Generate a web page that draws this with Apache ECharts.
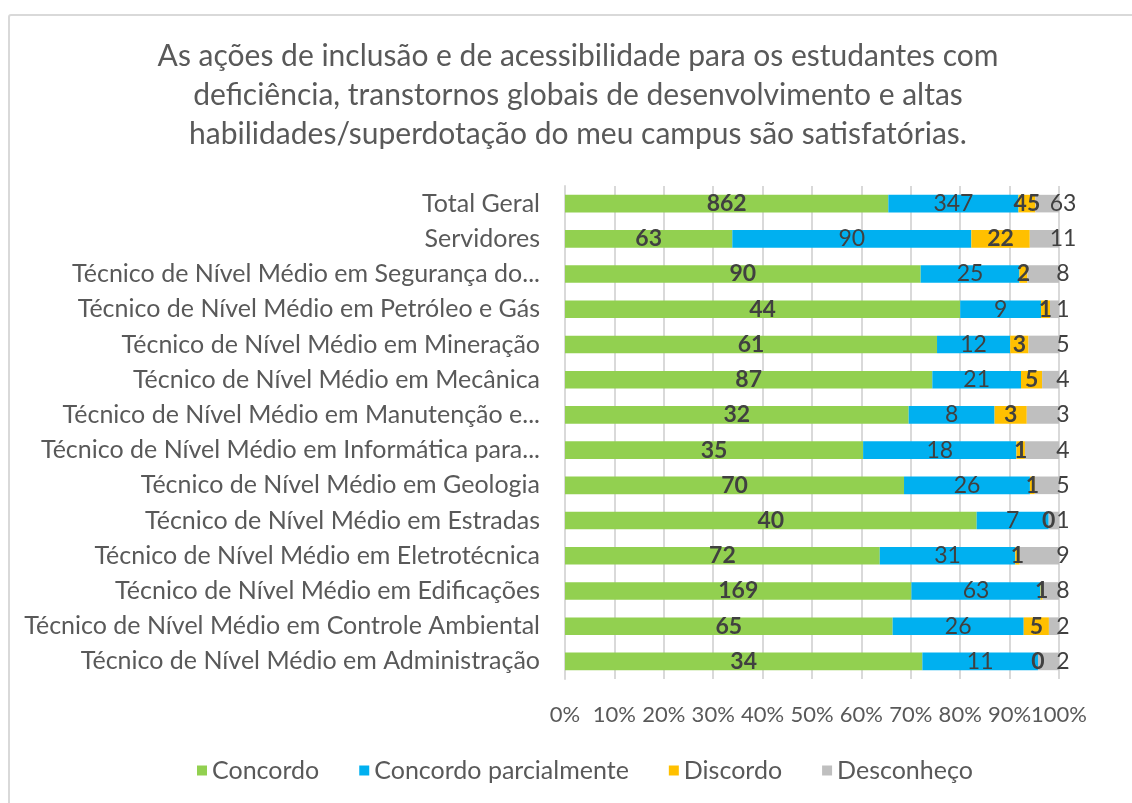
<!DOCTYPE html>
<html>
<head>
<meta charset="utf-8">
<script src="https://cdn.jsdelivr.net/npm/echarts@6/dist/echarts.min.js"></script>
<style>
  html, body { margin: 0; padding: 0; background: #fff; overflow: hidden; }
  #frame { position: absolute; left: 8px; top: 14px; width: 1200px; height: 900px; border: 2px solid #d9d9d9; border-radius: 3px; box-sizing: border-box; }
  #chart { position: absolute; left: 0; top: 0; width: 1132px; height: 803px; }
</style>
</head>
<body>
<div id="frame"></div>
<div id="chart"></div>
<script>
const titleText = 'As ações de inclusão e de acessibilidade para os estudantes com\ndeficiência, transtornos globais de desenvolvimento e altas\nhabilidades/superdotação do meu campus são satisfatórias.';

const categories = [
  'Total Geral',
  'Servidores',
  'Técnico de Nível Médio em Segurança do...',
  'Técnico de Nível Médio em Petróleo e Gás',
  'Técnico de Nível Médio em Mineração',
  'Técnico de Nível Médio em Mecânica',
  'Técnico de Nível Médio em Manutenção e...',
  'Técnico de Nível Médio em Informática para...',
  'Técnico de Nível Médio em Geologia',
  'Técnico de Nível Médio em Estradas',
  'Técnico de Nível Médio em Eletrotécnica',
  'Técnico de Nível Médio em Edificações',
  'Técnico de Nível Médio em Controle Ambiental',
  'Técnico de Nível Médio em Administração'
];

const seriesNames = ['Concordo', 'Concordo parcialmente', 'Discordo', 'Desconheço'];

const concordo     = [862, 63, 90, 44, 61, 87, 32, 35, 70, 40, 72, 169, 65, 34];
const parcialmente = [347, 90, 25,  9, 12, 21,  8, 18, 26,  7, 31,  63, 26, 11];
const discordo     = [ 45, 22,  2,  1,  3,  5,  3,  1,  1,  0,  1,   1,  5,  0];
const desconheco   = [ 63, 11,  8,  1,  5,  4,  3,  4,  5,  1,  9,   8,  2,  2];

const xTicks = [0, 10, 20, 30, 40, 50, 60, 70, 80, 90, 100];

const colors = ['#92d050', '#00b0f0', '#ffc000', '#bfbfbf'];
const FONT = 'Lato';

const raw = [concordo, parcialmente, discordo, desconheco];
const totals = categories.map((c, i) => raw.reduce((s, arr) => s + arr[i], 0));

const labelStyles = [
  { fontWeight: 'bold', position: 'inside' },
  { fontWeight: 'normal', position: 'inside' },
  { fontWeight: 'bold', position: 'inside' },
  { fontWeight: 'normal', position: ['100%', '50%'], align: 'center', verticalAlign: 'middle', offset: [4, 0] }
];

const series = raw.map((arr, k) => ({
  name: seriesNames[k],
  type: 'bar',
  stack: 'total',
  barWidth: '50%',
  itemStyle: { color: colors[k] },
  data: arr.map((v, i) => ({ value: v / totals[i] * 100, raw: v })),
  label: Object.assign({
    show: true,
    color: '#404040',
    fontFamily: FONT,
    fontSize: 23,
    formatter: p => String(p.data.raw)
  }, labelStyles[k]),
  emphasis: { disabled: true }
}));

const chart = echarts.init(document.getElementById('chart'), null, { renderer: 'canvas' });
chart.setOption({
  animation: false,
  backgroundColor: 'transparent',
  title: {
    text: titleText,
    left: 573,
    top: 32,
    textAlign: 'center',
    textStyle: { fontFamily: FONT, fontSize: 30, fontWeight: 'normal', color: '#595959', lineHeight: 39 }
  },
  legend: {
    data: seriesNames,
    left: 192,
    top: 753,
    itemWidth: 10,
    itemHeight: 10,
    itemGap: 40,
    icon: 'rect',
    textStyle: { fontFamily: FONT, fontSize: 25, color: '#595959', padding: [0, 0, 0, 0] }
  },
  grid: { left: 565, right: 73, top: 186, bottom: 124, containLabel: false },
  xAxis: {
    type: 'value',
    min: xTicks[0],
    max: xTicks[xTicks.length - 1],
    interval: 10,
    axisLine: { show: false },
    axisTick: { show: false },
    splitLine: { show: true, lineStyle: { color: '#d9d9d9', width: 2 } },
    axisLabel: { formatter: v => v + '%', fontFamily: FONT, fontSize: 22, color: '#595959', margin: 25 }
  },
  yAxis: {
    type: 'category',
    data: categories,
    inverse: true,
    axisLine: { show: true, lineStyle: { color: '#d9d9d9', width: 2 } },
    axisTick: { show: false },
    axisLabel: { fontFamily: FONT, fontSize: 25, color: '#595959', margin: 25 }
  },
  series: series
});
</script>
</body>
</html>
